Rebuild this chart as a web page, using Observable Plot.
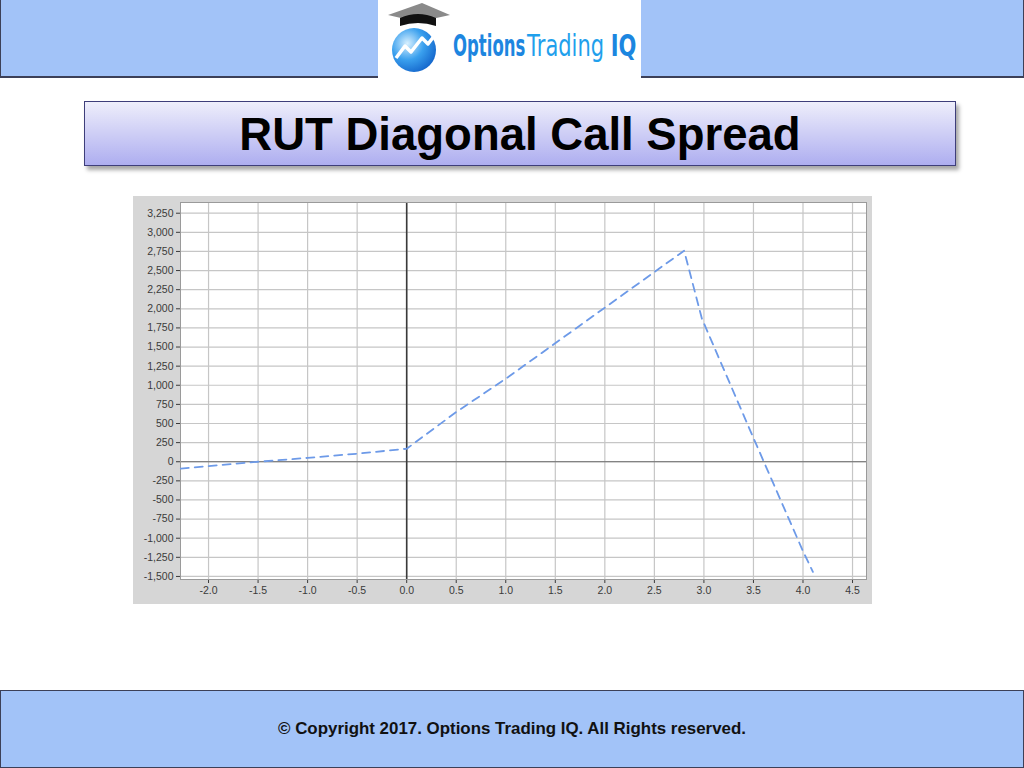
<!DOCTYPE html>
<html>
<head>
<meta charset="utf-8">
<script src="https://cdn.jsdelivr.net/npm/d3@7"></script>
<script src="https://cdn.jsdelivr.net/npm/@observablehq/plot@0.6"></script>
<style>
  html, body { margin: 0; padding: 0; background: #ffffff; }
  body { width: 1024px; height: 768px; position: relative; overflow: hidden; font-family: "Liberation Sans", Arial, sans-serif; }
  #banner { position: absolute; left: 0; top: 0; width: 1022px; height: 76px; background: #a2c3f8; border: 1px solid #3c4058; border-top: none; border-bottom: 2px solid #3c4058; }
  #logo { position: absolute; left: 378px; top: 0; width: 263px; height: 78px; background: #ffffff; }
  #logo .word { position: absolute; top: 30px; display: inline-block; font-size: 30px; line-height: 32px; white-space: nowrap; transform-origin: left center; font-family: 'DejaVu Sans', sans-serif; }
  #title { position: absolute; left: 84px; top: 101px; width: 870px; height: 63px; border: 1px solid #3e3e7a;
           background: linear-gradient(#eeeefb, #aeaef0); box-shadow: 3px 4px 4px rgba(0,0,0,0.35);
           text-align: center; font-weight: bold; font-size: 45.5px; line-height: 66px; color: #000; }
  #chart { position: absolute; left: 133px; top: 196px; }
  #footer { position: absolute; left: 0; top: 690px; width: 1022px; height: 76px; background: #a2c3f8; border: 1px solid #3c4058;
            text-align: center; font-weight: bold; font-size: 16.9px; line-height: 76px; color: #111; }
</style>
</head>
<body>
<div id="banner"></div>
<div id="logo">
  <svg width="80" height="78" style="position:absolute;left:0;top:0">
    <defs>
      <radialGradient id="ball" cx="0.35" cy="0.35" r="0.75">
        <stop offset="0" stop-color="#d8f0ff"/>
        <stop offset="0.5" stop-color="#3aa0ee"/>
        <stop offset="1" stop-color="#1060c8"/>
      </radialGradient>
    </defs>
    <polygon points="10,15 44,3 72,15 40,22" fill="#8a8a8a"/>
    <path d="M22,18 Q40,10 58,18 L58,26 Q40,20 22,26 Z" fill="#111"/>
    <circle cx="36" cy="50" r="22" fill="url(#ball)"/>
    <polyline points="18,58 27,46 33,52 44,38 50,44 60,31" fill="none" stroke="#ffffff" stroke-width="3.5" stroke-linejoin="round"/>
    <polygon points="56,29 64,27 62,35" fill="#ffffff"/>
  </svg>
  <span class="word" style="left:75px;font-weight:bold;color:#1d86e0;transform:scaleX(0.55);">Options</span>
  <span class="word" style="left:149px;color:#1fa0ec;transform:scaleX(0.70);">Trading <b style="color:#1b86e0">IQ</b></span>
</div>
<div id="title">RUT Diagonal Call Spread</div>
<div id="chart"></div>
<div id="footer">© Copyright 2017. Options Trading IQ. All Rights reserved.</div>
<script>
// Underlying move (x) and position P&L (y)
const moveX = [-2.28, -1.5, -1.0, -0.5, 0.0, 0.5, 1.0, 2.0, 2.8, 2.98, 3.5, 4.0, 4.1];
const profitY = [-90, 0, 50, 105, 170, 650, 1085, 2015, 2760, 1870, 310, -1170, -1440];
const xTicks = [-2.0, -1.5, -1.0, -0.5, 0.0, 0.5, 1.0, 1.5, 2.0, 2.5, 3.0, 3.5, 4.0, 4.5];
const yTicks = [-1500, -1250, -1000, -750, -500, -250, 0, 250, 500, 750, 1000, 1250, 1500, 1750, 2000, 2250, 2500, 2750, 3000, 3250];

const data = moveX.map((x, i) => ({x, y: profitY[i]}));
const fmtY = v => d3.format(",")(v).replace("\u2212", "-");
const fmtX = v => d3.format(".1f")(v).replace("\u2212", "-");

const chart = Plot.plot({
  width: 739,
  height: 408,
  marginLeft: 47,
  marginRight: 6,
  marginTop: 6,
  marginBottom: 25,
  style: {background: "#d6d6d6", fontFamily: "'Liberation Sans', Arial, sans-serif", fontSize: "10.5px", color: "#3a3a3a"},
  x: {domain: [-2.283, 4.641], ticks: xTicks, tickFormat: fmtX, tickSize: 4, tickPadding: 3, label: null},
  y: {domain: [-1540, 3390], ticks: yTicks, tickFormat: fmtY, tickSize: 4, tickPadding: 3, label: null},
  marks: [
    Plot.frame({fill: "#ffffff", stroke: null}),
    Plot.ruleX(xTicks, {stroke: "#c6c6c6", strokeWidth: 1.2}),
    Plot.ruleY(yTicks, {stroke: "#c6c6c6", strokeWidth: 1.2}),
    Plot.ruleY([0], {stroke: "#6a6a6a", strokeWidth: 1}),
    Plot.ruleX([0], {stroke: "#3a3a3a", strokeWidth: 1.6}),
    Plot.frame({stroke: "#9a9a9a", strokeWidth: 1}),
    Plot.line(data, {x: "x", y: "y", stroke: "#6d9ae8", strokeWidth: 1.8, strokeDasharray: "8,6", curve: "linear"})
  ]
});
document.getElementById("chart").appendChild(chart);
</script>
</body>
</html>
